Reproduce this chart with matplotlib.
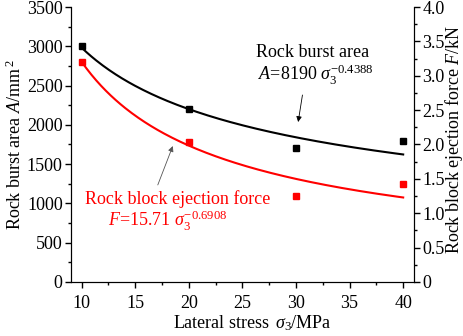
import numpy as np
import matplotlib
matplotlib.use('Agg')
import matplotlib.pyplot as plt
from matplotlib.ticker import MultipleLocator

plt.rcParams['font.family'] = ['Liberation Serif', 'DejaVu Serif']
plt.rcParams['mathtext.fontset'] = 'custom'
plt.rcParams['mathtext.rm'] = 'Liberation Serif'
plt.rcParams['mathtext.it'] = 'Liberation Serif:italic'
plt.rcParams['mathtext.bf'] = 'Liberation Serif:bold'

# measured points
stress = [10, 20, 30, 40]
burst_area = [3000, 2200, 1700, 1800]        # mm^2
eject_force = [3.20, 2.03, 1.25, 1.43]       # kN

# fitted power laws as printed on the chart
area_coef, area_exp = 8190, -0.4388
force_coef, force_exp = 15.71, -0.6908

FS = 13

fig = plt.figure(figsize=(4.64, 3.36), dpi=100)
ax = fig.add_axes([0.153, 0.161, 0.739, 0.818])
ax2 = ax.twinx()

xs = np.linspace(stress[0], stress[-1], 200)
ax.plot(xs, area_coef * xs ** area_exp, color='black', lw=1.5)
ax.plot(stress, burst_area, 's', color='black', ms=5)
ax2.plot(xs, force_coef * xs ** force_exp, color='red', lw=1.5)
ax2.plot(stress, eject_force, 's', color='red', ms=5)

ax.set_xlim(9, 41)
ax.set_ylim(0, 3500)
ax2.set_ylim(0, 4)

ax.xaxis.set_major_locator(MultipleLocator(5))
ax.xaxis.set_minor_locator(MultipleLocator(2.5))
ax.yaxis.set_major_locator(MultipleLocator(500))
ax.yaxis.set_minor_locator(MultipleLocator(250))
ax2.yaxis.set_minor_locator(MultipleLocator(0.25))
ax2.set_yticks([0, 0.5, 1, 1.5, 2, 2.5, 3, 3.5, 4])
ax2.set_yticklabels(['0', '0.5', '1.0', '1.5', '2.0', '2.5', '3.0', '3.5', '4.0'])

for a in (ax, ax2):
    a.spines['top'].set_visible(False)
    a.tick_params(which='major', direction='out', length=4, width=1, labelsize=FS, pad=2)
    a.tick_params(which='minor', direction='out', length=2.5, width=1)
ax.tick_params(axis='x', which='major', pad=5.5)

ax.set_xlabel(r'Lateral stress $\,\sigma_3$/MPa', fontsize=FS)
ax.xaxis.set_label_coords(0.528, -0.115)
ax.set_ylabel(r'Rock burst area $\it{A}$/mm$^{\,2}$', fontsize=FS, labelpad=1)
ax2.set_ylabel(r'Rock block ejection force $\it{F}$/kN', fontsize=FS)
ax2.yaxis.set_label_coords(1.085, 0.52)

# annotations
ax.text(31.5, 2927, 'Rock burst area', fontsize=FS, ha='center', va='center')
ax.text(31.85, 2635, r'$\it{A}$=8190 $\sigma_3^{-0.4388}$', fontsize=FS,
        ha='center', va='center')
ax.annotate('', xy=(30.2, 2036), xytext=(30.6, 2380),
            arrowprops=dict(arrowstyle='-|>', color='black', lw=0.6,
                            mutation_scale=8, shrinkA=0, shrinkB=0))

ax.text(19.0, 1056, 'Rock block ejection force', fontsize=FS, color='red',
        ha='center', va='center')
ax.text(18.0, 776, r'$\it{F}$=15.71 $\sigma_3^{-0.6908}$', fontsize=FS, color='red',
        ha='center', va='center')
ax.annotate('', xy=(18.5, 1730), xytext=(17.1, 1235),
            arrowprops=dict(arrowstyle='-|>', color='#555555', lw=0.6,
                            mutation_scale=8, shrinkA=0, shrinkB=0))

fig.savefig('out.png', dpi=100)
